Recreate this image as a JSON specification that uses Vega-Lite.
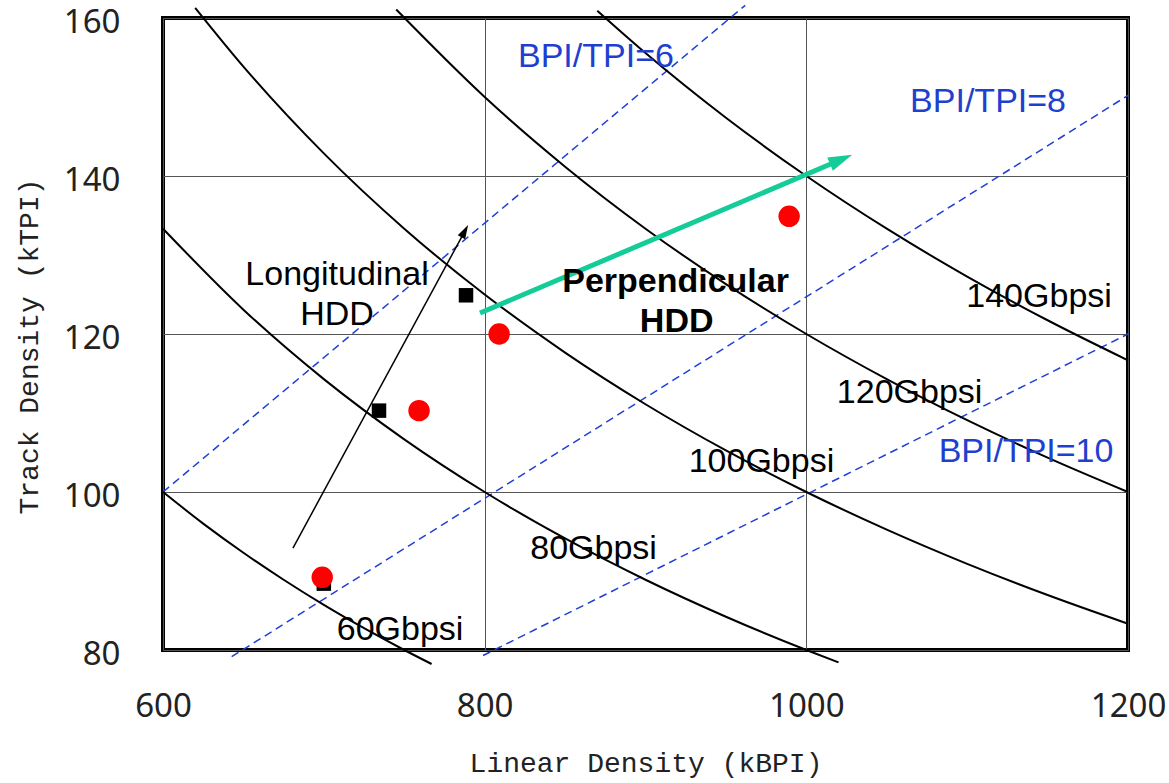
{
  "$schema": "https://vega.github.io/schema/vega-lite/v6.json",
  "autosize": {"type": "none"},
  "padding": {"left": 163, "top": 18, "right": 41, "bottom": 133},
  "width": 965,
  "height": 632,
  "background": "white",
  "config": {
    "view": {"stroke": "black", "strokeWidth": 4},
    "axis": {
      "grid": true, "gridColor": "#555", "gridWidth": 1,
      "ticks": false, "tickSize": 0, "domain": false, "labelFlush": false, "labelOverlap": false,
      "labelFont": "Noto Sans", "labelFontSize": 33, "labelColor": "#222",
      "titleFont": "Liberation Mono", "titleFontSize": 28, "titleFontWeight": "normal", "titleColor": "#222"
    }
  },
  "datasets": {
    "lines": [
      {"series": "BPI/TPI=6", "kind": "ratio", "x": 600, "y": 100},
      {"series": "BPI/TPI=6", "kind": "ratio", "x": 962, "y": 161.6},
      {"series": "BPI/TPI=8", "kind": "ratio", "x": 642.7, "y": 79.15},
      {"series": "BPI/TPI=8", "kind": "ratio", "x": 1200, "y": 150.2},
      {"series": "BPI/TPI=10", "kind": "ratio", "x": 799, "y": 79.3},
      {"series": "BPI/TPI=10", "kind": "ratio", "x": 1200, "y": 120},
      {"series": "60Gbpsi", "kind": "curve", "x": 600, "y": 100},
      {"series": "60Gbpsi", "kind": "curve", "x": 625, "y": 96},
      {"series": "60Gbpsi", "kind": "curve", "x": 650, "y": 92.31},
      {"series": "60Gbpsi", "kind": "curve", "x": 675, "y": 88.89},
      {"series": "60Gbpsi", "kind": "curve", "x": 700, "y": 85.71},
      {"series": "60Gbpsi", "kind": "curve", "x": 725, "y": 82.76},
      {"series": "60Gbpsi", "kind": "curve", "x": 750, "y": 80},
      {"series": "60Gbpsi", "kind": "curve", "x": 767, "y": 78.23},
      {"series": "80Gbpsi", "kind": "curve", "x": 600, "y": 133.33},
      {"series": "80Gbpsi", "kind": "curve", "x": 650, "y": 123.08},
      {"series": "80Gbpsi", "kind": "curve", "x": 700, "y": 114.29},
      {"series": "80Gbpsi", "kind": "curve", "x": 750, "y": 106.67},
      {"series": "80Gbpsi", "kind": "curve", "x": 800, "y": 100},
      {"series": "80Gbpsi", "kind": "curve", "x": 850, "y": 94.12},
      {"series": "80Gbpsi", "kind": "curve", "x": 900, "y": 88.89},
      {"series": "80Gbpsi", "kind": "curve", "x": 950, "y": 84.21},
      {"series": "80Gbpsi", "kind": "curve", "x": 1000, "y": 80},
      {"series": "80Gbpsi", "kind": "curve", "x": 1020, "y": 78.43},
      {"series": "100Gbpsi", "kind": "curve", "x": 620, "y": 161.29},
      {"series": "100Gbpsi", "kind": "curve", "x": 650, "y": 153.85},
      {"series": "100Gbpsi", "kind": "curve", "x": 700, "y": 142.86},
      {"series": "100Gbpsi", "kind": "curve", "x": 750, "y": 133.33},
      {"series": "100Gbpsi", "kind": "curve", "x": 800, "y": 125},
      {"series": "100Gbpsi", "kind": "curve", "x": 850, "y": 117.65},
      {"series": "100Gbpsi", "kind": "curve", "x": 900, "y": 111.11},
      {"series": "100Gbpsi", "kind": "curve", "x": 950, "y": 105.26},
      {"series": "100Gbpsi", "kind": "curve", "x": 1000, "y": 100},
      {"series": "100Gbpsi", "kind": "curve", "x": 1050, "y": 95.24},
      {"series": "100Gbpsi", "kind": "curve", "x": 1100, "y": 90.91},
      {"series": "100Gbpsi", "kind": "curve", "x": 1150, "y": 86.96},
      {"series": "100Gbpsi", "kind": "curve", "x": 1200, "y": 83.33},
      {"series": "120Gbpsi", "kind": "curve", "x": 745, "y": 161.07},
      {"series": "120Gbpsi", "kind": "curve", "x": 800, "y": 150},
      {"series": "120Gbpsi", "kind": "curve", "x": 850, "y": 141.18},
      {"series": "120Gbpsi", "kind": "curve", "x": 900, "y": 133.33},
      {"series": "120Gbpsi", "kind": "curve", "x": 950, "y": 126.32},
      {"series": "120Gbpsi", "kind": "curve", "x": 1000, "y": 120},
      {"series": "120Gbpsi", "kind": "curve", "x": 1050, "y": 114.29},
      {"series": "120Gbpsi", "kind": "curve", "x": 1100, "y": 109.09},
      {"series": "120Gbpsi", "kind": "curve", "x": 1150, "y": 104.35},
      {"series": "120Gbpsi", "kind": "curve", "x": 1200, "y": 100},
      {"series": "140Gbpsi", "kind": "curve", "x": 870, "y": 160.92},
      {"series": "140Gbpsi", "kind": "curve", "x": 900, "y": 155.56},
      {"series": "140Gbpsi", "kind": "curve", "x": 950, "y": 147.37},
      {"series": "140Gbpsi", "kind": "curve", "x": 1000, "y": 140},
      {"series": "140Gbpsi", "kind": "curve", "x": 1050, "y": 133.33},
      {"series": "140Gbpsi", "kind": "curve", "x": 1100, "y": 127.27},
      {"series": "140Gbpsi", "kind": "curve", "x": 1150, "y": 121.74},
      {"series": "140Gbpsi", "kind": "curve", "x": 1200, "y": 116.67},
      {"series": "Longitudinal trend", "kind": "blackarrow", "x": 680.8, "y": 92.9},
      {"series": "Longitudinal trend", "kind": "blackarrow", "x": 787.6, "y": 133.0},
      {"series": "Perpendicular trend", "kind": "greenarrow", "x": 797.1, "y": 122.66},
      {"series": "Perpendicular trend", "kind": "greenarrow", "x": 1017.0, "y": 141.67}
    ],
    "heads": [
      {"kind": "blackarrow", "x": 789.7, "y": 133.8},
      {"kind": "greenarrow", "x": 1028.5, "y": 142.7}
    ],
    "points": [
      {"kind": "Longitudinal", "x": 700, "y": 88.4},
      {"kind": "Longitudinal", "x": 734.3, "y": 110.3},
      {"kind": "Longitudinal", "x": 788.4, "y": 124.9},
      {"kind": "Perpendicular", "x": 699, "y": 89.2},
      {"kind": "Perpendicular", "x": 759.2, "y": 110.3},
      {"kind": "Perpendicular", "x": 809, "y": 120},
      {"kind": "Perpendicular", "x": 989.3, "y": 134.9}
    ],
    "labels": [
      {"style": "blue", "text": "BPI/TPI=6", "x": 869.2, "y": 153.84},
      {"style": "blue", "text": "BPI/TPI=8", "x": 1113, "y": 148.1},
      {"style": "blue", "text": "BPI/TPI=10", "x": 1136.6, "y": 103.84},
      {"style": "black", "text": "Longitudinal", "x": 708.2, "y": 126.2},
      {"style": "black", "text": "HDD", "x": 708.2, "y": 121.14},
      {"style": "bold", "text": "Perpendicular", "x": 918.7, "y": 125.35},
      {"style": "bold", "text": "HDD", "x": 919.4, "y": 120.29},
      {"style": "black", "text": "140Gbpsi", "x": 1144.7, "y": 123.46},
      {"style": "black", "text": "120Gbpsi", "x": 1064.2, "y": 111.27},
      {"style": "black", "text": "100Gbpsi", "x": 972.1, "y": 102.53},
      {"style": "black", "text": "80Gbpsi", "x": 867.7, "y": 91.52},
      {"style": "black", "text": "60Gbpsi", "x": 747.4, "y": 81.27}
    ]
  },
  "encoding": {
    "x": {"field": "x", "type": "quantitative",
      "scale": {"domain": [600, 1200], "nice": false, "zero": false},
      "axis": {"values": [600, 800, 1000, 1200], "format": "d", "title": "Linear Density (kBPI)", "labelPadding": 40,
        "titleBaseline": "middle", "titleY": 113}},
    "y": {"field": "y", "type": "quantitative",
      "scale": {"domain": [80, 160], "nice": false, "zero": false},
      "axis": {"values": [80, 100, 120, 140, 160], "format": "d", "title": "Track Density (kTPI)", "labelPadding": 43, "labelOffset": 4,
        "titleBaseline": "middle", "titleX": -134, "titleY": 328}}
  },
  "layer": [
    {
      "data": {"name": "lines"},
      "transform": [{"filter": "datum.kind === 'ratio'"}],
      "mark": {"type": "line", "color": "#1f3fd6", "strokeWidth": 1.5, "strokeDash": [8, 5]},
      "encoding": {"detail": {"field": "series"}}
    },
    {
      "data": {"name": "lines"},
      "transform": [{"filter": "datum.kind === 'curve'"}],
      "mark": {"type": "line", "color": "black", "strokeWidth": 2, "interpolate": "monotone"},
      "encoding": {"detail": {"field": "series"}}
    },
    {
      "data": {"name": "lines"},
      "transform": [{"filter": "datum.kind === 'blackarrow'"}],
      "mark": {"type": "line", "color": "black", "strokeWidth": 1.5},
      "encoding": {"detail": {"field": "series"}}
    },
    {
      "data": {"name": "lines"},
      "transform": [{"filter": "datum.kind === 'greenarrow'"}],
      "mark": {"type": "line", "color": "#14cc98", "strokeWidth": 5},
      "encoding": {"detail": {"field": "series"}}
    },
    {
      "data": {"name": "heads"},
      "transform": [{"filter": "datum.kind === 'blackarrow'"}],
      "mark": {"type": "point", "shape": "M0,0L0.6,2L-0.6,2Z", "filled": true, "color": "black", "opacity": 1, "size": 196, "angle": 28.4}
    },
    {
      "data": {"name": "heads"},
      "transform": [{"filter": "datum.kind === 'greenarrow'"}],
      "mark": {"type": "point", "shape": "M0,0L0.6,2L-0.6,2Z", "filled": true, "color": "#14cc98", "opacity": 1, "size": 576, "angle": 67}
    },
    {
      "data": {"name": "points"},
      "transform": [{"filter": "datum.kind === 'Longitudinal'"}],
      "mark": {"type": "square", "filled": true, "color": "black", "opacity": 1, "size": 210}
    },
    {
      "data": {"name": "points"},
      "transform": [{"filter": "datum.kind === 'Perpendicular'"}],
      "mark": {"type": "circle", "color": "#ff0000", "opacity": 1, "size": 460}
    },
    {
      "data": {"name": "labels"},
      "transform": [{"filter": "datum.style === 'blue'"}],
      "mark": {"type": "text", "font": "Liberation Sans", "fontSize": 34, "color": "#1f3fcf", "align": "center", "baseline": "alphabetic"},
      "encoding": {"text": {"field": "text"}}
    },
    {
      "data": {"name": "labels"},
      "transform": [{"filter": "datum.style === 'black'"}],
      "mark": {"type": "text", "font": "Liberation Sans", "fontSize": 34, "color": "black", "align": "center", "baseline": "alphabetic"},
      "encoding": {"text": {"field": "text"}}
    },
    {
      "data": {"name": "labels"},
      "transform": [{"filter": "datum.style === 'bold'"}],
      "mark": {"type": "text", "font": "Liberation Sans", "fontSize": 34, "fontWeight": "bold", "color": "black", "align": "center", "baseline": "alphabetic"},
      "encoding": {"text": {"field": "text"}}
    }
  ]
}
